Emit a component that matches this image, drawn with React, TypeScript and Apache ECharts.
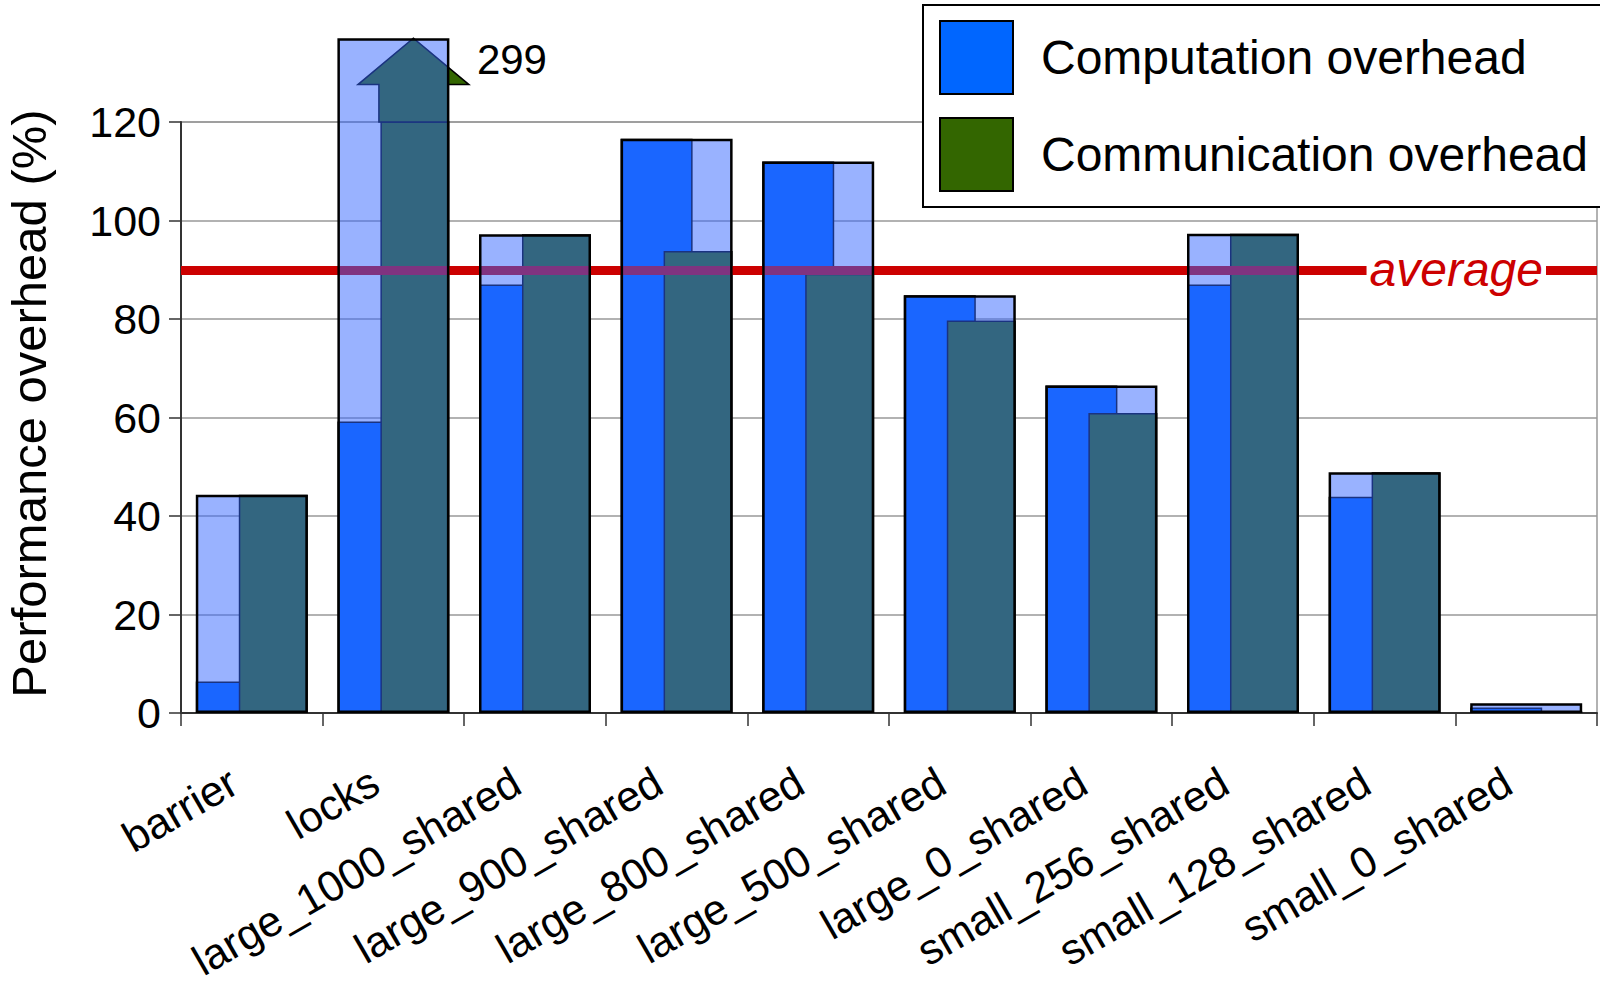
import React, { useEffect, useRef } from 'react';
import * as echarts from 'echarts';

// ---- data ----
const categories = [
  'barrier',
  'locks',
  'large_1000_shared',
  'large_900_shared',
  'large_800_shared',
  'large_500_shared',
  'large_0_shared',
  'small_256_shared',
  'small_128_shared',
  'small_0_shared',
];
const computation = [6.4, 59.2, 87.0, 116.6, 112.0, 84.8, 66.5, 87.0, 43.9, 1.1];
const communication = [44.3, 299, 97.2, 93.8, 89.2, 79.7, 60.9, 97.3, 48.9, 0.4];
const combined = [44.3, 137, 97.2, 116.6, 112.0, 84.8, 66.5, 97.3, 48.9, 2.0];
const yTicks = [0, 20, 40, 60, 80, 100, 120];
const averageValue = 90;
const offScaleCategory = 1; // locks
const offScaleValue = 299;
const arrowHeadValue = 127.6;
const arrowTipValue = 137;
const arrowLabelValue = 132.6;

const FONT = '"Liberation Sans", Arial, Helvetica, sans-serif';
const BLUE = '#0066ff';
const GREEN = '#336600';
const OVERLAY = 'rgba(51,102,255,0.5)';

export default function App() {
  const ref = useRef<HTMLDivElement>(null);

  useEffect(() => {
    if (!ref.current) return;
    const chart = echarts.init(ref.current, null, { renderer: 'svg' });
    const yMin = yTicks[0];
    const yMax = yTicks[yTicks.length - 1];

    const option: any = {
      animation: false,
      backgroundColor: '#fff',
      textStyle: { fontFamily: FONT },
      grid: {
        left: 181,
        top: 122,
        width: 1416,
        height: 591,
        containLabel: false,
        outerBoundsMode: 'none',
        show: true,
        borderColor: '#999',
        borderWidth: 1.5,
        backgroundColor: 'transparent',
      },
      legend: {
        data: ['Computation overhead', 'Communication overhead'],
        orient: 'vertical',
        left: 923,
        top: 5,
        z: 10,
        backgroundColor: '#fff',
        borderColor: '#000',
        borderWidth: 2,
        padding: [15, 120, 15, 16],
        itemWidth: 73,
        itemHeight: 73,
        itemGap: 22,
        icon: 'rect',
        selectedMode: false,
        itemStyle: { borderColor: '#000', borderWidth: 2 },
        textStyle: {
          fontSize: 48,
          color: '#000',
          fontFamily: FONT,
          padding: [0, 0, 0, 23],
        },
      },
      xAxis: [
        {
          type: 'category',
          data: categories,
          gridIndex: 0,
          position: 'bottom',
          axisLine: { show: true, lineStyle: { color: '#333', width: 2 } },
          axisTick: { show: true, length: 13, lineStyle: { color: '#333', width: 1.5 } },
          axisLabel: {
            interval: 0,
            rotate: 30,
            margin: 55,
            fontSize: 43,
            color: '#000',
            fontFamily: FONT,
            padding: [0, 21, 0, 0],
          },
          splitLine: { show: false },
        },
        {
          type: 'category',
          data: categories,
          gridIndex: 0,
          show: false,
        },
      ],
      yAxis: {
        type: 'value',
        min: yMin,
        max: yMax,
        interval: 20,
        name: 'Performance overhead (%)',
        nameLocation: 'middle',
        nameRotate: 90,
        nameGap: 128,
        nameTextStyle: {
          fontSize: 49,
          color: '#000',
          fontFamily: FONT,
          padding: [0, 0, 0, 28],
        },
        axisLine: { show: true, lineStyle: { color: '#333', width: 2 } },
        axisTick: { show: true, length: 12, lineStyle: { color: '#333', width: 1.5 } },
        axisLabel: { fontSize: 43, color: '#000', margin: 20, fontFamily: FONT },
        splitLine: { show: true, lineStyle: { color: '#999', width: 1.5 } },
      },
      series: [
        {
          name: 'Computation overhead',
          type: 'bar',
          xAxisIndex: 0,
          data: computation,
          barWidth: 72,
          barGap: '-40.3%',
          z: 2,
          silent: true,
          itemStyle: { color: BLUE, borderColor: '#000', borderWidth: 1.5 },
          markLine: {
            z: 5,
            silent: true,
            symbol: 'none',
            lineStyle: { color: '#cc0000', width: 9, type: 'solid' },
            label: {
              show: true,
              position: 'insideEnd',
              formatter: 'average',
              color: '#cc0000',
              fontStyle: 'italic',
              fontSize: 48,
              fontFamily: FONT,
              backgroundColor: '#fff',
              padding: [0, 3, 0, 3],
              distance: [51, 0],
            },
            emphasis: { disabled: true },
            data: [{ yAxis: averageValue }],
          },
        },
        {
          name: 'Communication overhead',
          type: 'bar',
          xAxisIndex: 0,
          data: communication,
          barWidth: 69,
          barGap: '-40.3%',
          z: 3,
          silent: true,
          itemStyle: { color: GREEN, borderColor: '#000', borderWidth: 1.5 },
        },
        {
          name: 'off-scale',
          type: 'custom',
          xAxisIndex: 0,
          z: 4,
          silent: true,
          data: [[offScaleCategory, offScaleValue]],
          renderItem: (params: any, api: any) => {
            const idx = api.value(0);
            const v = api.value(1);
            const base = api.coord([idx, yMax]);
            const yHead = api.coord([idx, arrowHeadValue])[1];
            const yTip = api.coord([idx, arrowTipValue])[1];
            const yLabel = api.coord([idx, arrowLabelValue])[1];
            const x = base[0] + 20;
            const hw = 34.5;
            const hh = 55.5;
            return {
              type: 'group',
              children: [
                {
                  type: 'polygon',
                  shape: {
                    points: [
                      [x - hw, base[1]],
                      [x - hw, yHead],
                      [x - hh, yHead],
                      [x, yTip],
                      [x + hh, yHead],
                      [x + hw, yHead],
                      [x + hw, base[1]],
                    ],
                  },
                  style: { fill: GREEN, stroke: '#000', lineWidth: 1.5 },
                },
                {
                  type: 'text',
                  x: x + hh + 8,
                  y: yLabel,
                  style: {
                    text: String(v),
                    fontSize: 42,
                    fontFamily: FONT,
                    fill: '#000',
                    align: 'left',
                    verticalAlign: 'middle',
                  },
                },
              ],
            };
          },
        },
        {
          name: 'Total overhead',
          type: 'bar',
          xAxisIndex: 1,
          data: combined,
          barWidth: 112,
          clip: false,
          z: 6,
          silent: true,
          itemStyle: { color: OVERLAY, borderColor: '#000', borderWidth: 2.5 },
        },
      ],
    };

    chart.setOption(option);
    return () => {
      chart.dispose();
    };
  }, []);

  return (
    <div
      ref={ref}
      style={{ position: 'fixed', left: 0, top: 0, width: 1600, height: 990, background: '#fff' }}
    />
  );
}
